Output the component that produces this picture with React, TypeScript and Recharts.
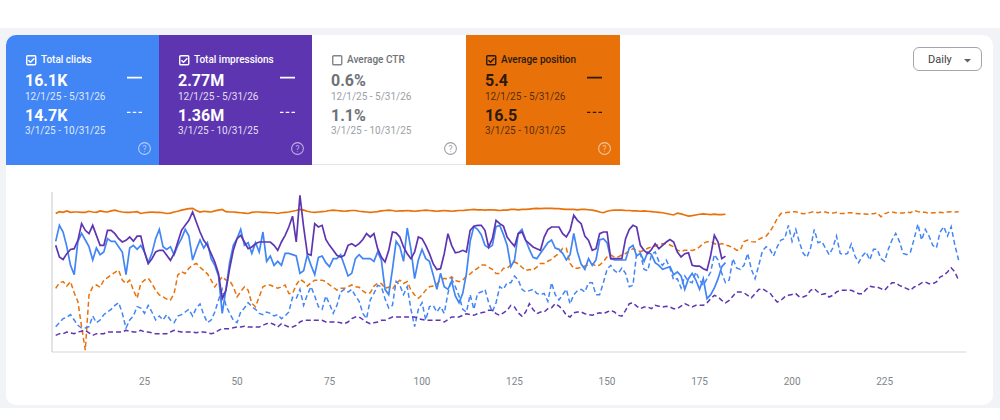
import React from 'react';
import { LineChart, Line, XAxis, YAxis } from 'recharts';

// Daily series, 12/1/25 - 5/31/26 (current period, 182 days)
const clicksCurrent = [
  83, 95, 90, 79, 65, 58, 83, 89, 84, 79, 69, 78, 73, 75, 85, 83, 83, 79, 75, 58,
  78, 80, 77, 80, 75, 67, 74, 85, 92, 79, 77, 79, 73, 80, 85, 92, 87, 69, 77, 84,
  78, 82, 70, 65, 57, 29, 47, 67, 80, 85, 92, 80, 82, 74, 82, 75, 90, 68, 72, 65,
  68,
  65, 74, 74, 73, 72, 59, 61, 73, 65, 58, 71, 72, 67, 64, 70, 70, 73, 65, 57, 59,
  70, 73, 70, 70, 70, 68, 75, 69, 47, 43, 62, 83, 79, 68, 93, 77, 55, 69, 77, 70,
  68, 58, 47, 59, 49, 47, 53, 42, 37, 44, 59, 83, 94, 92, 88, 80, 78, 80, 94, 95,
  88, 80,
  64, 69, 89, 92, 84, 77, 71, 70, 74, 78, 82, 84, 78, 77, 74, 69, 73, 89, 75, 66,
  62, 70, 65, 69, 84, 85, 82, 70, 69, 69, 69, 69, 78, 80, 72, 74, 68, 75, 73, 67,
  65, 62, 63, 64, 58, 60, 57, 47, 55, 59, 54, 47, 55, 40, 43, 48, 55, 64, 67,
];

// impressions in thousands
const impressionsCurrent = [
  12.8, 11.4, 11.1, 11.8, 12.3, 12.4, 13.4, 15.4, 14.6, 14.2, 15.2, 14.0, 12.8, 12.8, 14.6, 14.6, 14.2, 13.6, 13.2, 13.4,
  13.8, 13.3, 13.9, 13.9, 12.0, 10.6, 11.2, 12.0, 12.2, 12.2, 11.6, 11.0, 11.8, 13.2, 14.6, 15.2, 15.8, 16.8, 15.6, 14.4,
  13.4, 12.8, 11.8, 10.8, 9.4, 6.4, 7.4, 10.0, 12.2, 13.6, 14.0, 13.2, 12.4, 12.6, 13.0, 13.2, 13.2, 13.2, 13.2, 12.8,
  12.2,
  13.2, 14.0, 15.0, 16.3, 13.2, 18.8, 15.0, 11.8, 11.6, 15.4, 15.0, 15.2, 13.5, 12.8, 12.2, 11.6, 11.4, 11.6, 12.8, 13.0,
  12.7, 13.0, 13.5, 14.2, 13.8, 14.2, 12.4, 11.4, 10.8, 12.2, 14.4, 14.3, 13.8, 12.6, 11.8, 11.2, 12.0, 13.8, 13.6, 12.8,
  11.8, 10.6, 9.9, 10.0, 11.8, 14.2, 12.8, 11.9, 12.0, 12.2, 12.0, 14.6, 15.1, 15.2, 15.2, 14.6, 12.6, 13.6, 15.8, 15.4,
  15.1, 13.8,
  13.2, 12.7, 14.2, 14.4, 13.4, 13.0, 12.6, 12.4, 12.2, 13.8, 14.7, 15.0, 15.0, 15.0, 14.2, 13.8, 14.6, 16.4, 15.8, 15.4,
  13.9, 13.4, 12.2, 12.4, 14.2, 14.4, 14.4, 11.2, 11.2, 11.2, 11.2, 13.6, 14.7, 15.2, 15.0, 12.8, 12.2, 11.8, 12.3, 13.0,
  12.4, 12.8, 13.2, 13.5, 13.2, 12.0, 11.4, 11.8, 11.9, 10.4, 10.3, 10.3, 10.0, 9.8, 11.6, 14.0, 13.2, 11.2, 11.5,
];

const positionCurrent = [
  5.8, 5.3, 5.5, 5.1, 5.5, 5.4, 5.4, 5.5, 5.5, 5.2, 5.4, 5.5, 5.1, 5.3, 5.4, 5.1, 4.9, 5.2, 5.4, 5.5,
  5.5, 5.4, 5.3, 5.8, 5.6, 5.5, 5.4, 5.5, 5.5, 5.6, 5.8, 5.7, 5.4, 5.2, 4.9, 4.7, 4.5, 4.4, 5.0, 5.4,
  5.2, 5.3, 5.4, 5.1, 4.9, 4.7, 5.3, 5.4, 5.4, 5.5, 5.6, 5.7, 5.8, 5.5, 5.4, 5.4, 5.5, 5.5, 5.6, 5.6,
  5.8,
  5.6, 5.5, 5.4, 5.2, 5.0, 4.7, 4.9, 5.2, 5.4, 5.5, 5.4, 5.3, 5.2, 5.0, 4.9, 5.0, 5.1, 5.2, 5.1, 5.0,
  5.0, 5.2, 5.3, 5.4, 5.5, 5.4, 5.3, 5.1, 5.0, 4.9, 5.0, 5.2, 5.1, 5.1, 5.0, 5.1, 5.2, 5.1, 5.0, 4.9,
  5.0, 5.1, 5.2, 5.1, 5.0, 5.1, 5.2, 5.1, 5.0, 5.0, 4.9, 4.8, 4.7, 4.8, 4.8, 4.9, 4.8, 4.8, 4.9, 5.0,
  4.9, 4.9,
  4.7, 4.7, 4.8, 4.7, 4.7, 4.6, 4.5, 4.4, 4.5, 4.4, 4.4, 4.4, 4.5, 4.5, 4.6, 4.7, 4.7, 4.7, 4.8, 4.7,
  4.7, 4.8, 4.9, 5.1, 5.4, 5.6, 5.2, 5.0, 4.9, 4.9, 4.9, 5.0, 5.0, 5.1, 5.1, 5.2, 5.1, 5.2, 5.3, 5.4,
  5.5, 5.6, 5.8, 6.0, 6.2, 5.7, 5.9, 6.2, 6.5, 6.4, 6.2, 6.0, 5.9, 6.0, 6.1, 6.0, 6.1, 6.1, 6.0,
];

// Daily series, 3/1/25 - 10/31/25 (comparison period, 245 days)
const clicksPrevious = [
  19, 22, 25, 26, 28, 24, 20, 18, 18, 19, 27, 22, 24, 28, 30, 32, 35, 37, 29, 18,
  24, 27, 34, 33, 29, 35, 30, 24, 27, 24, 28, 24, 22, 27, 28, 30, 32, 27, 33, 36,
  28, 22, 24, 30, 39, 47, 35, 29, 24, 22, 30, 33, 37, 34, 32, 29, 28, 30, 29, 27,
  28,
  25, 27, 30, 41, 40, 47, 35, 43, 49, 42, 34, 32, 42, 36, 29, 35, 45, 47, 45, 47,
  42, 38, 29, 25, 39, 44, 50, 49, 40, 33, 35, 53, 50, 43, 49, 32, 19, 32, 37, 24,
  34, 35, 30, 34, 29, 44, 55, 49, 42, 32, 30, 43, 32, 44, 45, 47, 37, 30, 37, 49,
  47, 52,
  52, 57, 54, 47, 45, 46, 47, 44, 43, 44, 38, 52, 43, 39, 43, 47, 36, 43, 46, 47,
  45, 52, 52, 43, 43, 52, 62, 65, 61, 59, 63, 59, 49, 50, 74, 74, 62, 61, 73, 75,
  68, 65, 69, 63, 54, 55, 48, 57, 53, 52, 60, 54, 50, 55, 60, 73, 69, 59, 52, 54,
  70, 63, 62,
  65, 74, 62, 55, 65, 76, 79, 77, 72, 79, 84, 85, 95, 83, 92, 82, 74, 71, 78, 92,
  82, 83, 78, 73, 78, 87, 74, 73, 74, 81, 72, 67, 72, 75, 69, 77, 77, 70, 68, 77,
  84, 89, 83, 74, 73, 75, 85, 96, 84, 92, 87, 80, 78, 90, 94, 87, 94, 80, 69,
];

// impressions in thousands
const impressionsPrevious = [
  2.0, 2.2, 2.2, 2.4, 2.3, 2.2, 2.4, 2.5, 2.6, 2.3, 2.0, 2.2, 2.2, 2.2, 2.4, 2.4, 2.4, 2.4, 2.4, 2.6,
  2.5, 2.4, 2.4, 2.6, 2.4, 2.4, 2.3, 2.2, 2.2, 2.2, 2.2, 2.4, 2.6, 2.5, 2.4, 2.4, 2.4, 2.4, 2.3, 2.4,
  2.4, 2.3, 2.2, 2.3, 2.6, 2.8, 2.8, 2.8, 2.9, 3.0, 3.0, 3.1, 3.0, 3.0, 3.0, 3.0, 3.2, 3.4, 3.5, 3.3,
  3.0,
  3.4, 3.2, 3.0, 3.0, 3.2, 3.6, 3.8, 3.8, 3.8, 3.8, 3.8, 3.8, 3.6, 3.6, 3.6, 3.6, 3.5, 3.4, 3.6, 4.0,
  4.2, 4.2, 3.9, 3.6, 3.4, 3.5, 3.6, 3.8, 3.8, 4.0, 4.2, 4.2, 4.2, 4.2, 4.2, 4.2, 4.2, 4.0, 3.9, 3.8,
  3.8, 3.8, 3.8, 3.8, 3.6, 3.9, 4.2, 4.2, 4.2, 4.4, 4.6, 4.5, 4.4, 4.6, 4.7, 4.8, 5.0, 5.0, 4.6, 4.4,
  4.7, 5.0,
  5.6, 5.4, 4.7, 4.3, 4.8, 5.8, 5.1, 4.6, 4.8, 4.8, 5.2, 5.3, 5.8, 5.5, 5.1, 4.4, 4.2, 4.7, 4.8, 4.8,
  4.6, 4.5, 4.4, 4.6, 4.7, 4.6, 4.8, 5.0, 4.8, 4.4, 4.3, 5.0, 5.8, 5.9, 5.5, 5.2, 5.4, 5.4, 5.2, 5.6,
  5.5, 5.4, 5.5, 5.4, 5.2, 5.2, 5.5, 5.8, 5.6, 5.4, 5.6, 5.6, 5.6, 5.9, 6.4, 6.8, 6.6, 6.2, 5.9, 6.2,
  6.7, 7.2, 7.2,
  7.1, 6.8, 6.5, 7.0, 7.5, 7.6, 7.3, 7.1, 6.5, 6.0, 6.2, 6.6, 6.8, 6.9, 7.0, 6.6, 6.6, 6.8, 7.4, 7.6,
  7.2, 6.9, 7.0, 6.6, 6.8, 7.2, 7.4, 7.4, 7.4, 7.4, 7.2, 7.0, 7.0, 7.5, 7.9, 7.8, 7.8, 7.6, 7.4, 7.9,
  8.3, 8.3, 8.0, 7.8, 7.6, 7.4, 7.8, 8.0, 8.3, 8.4, 8.2, 8.2, 8.4, 9.0, 9.2, 9.6, 10.1, 9.6, 8.6,
];

const positionPrevious = [
  26.0, 24.5, 24.2, 25.4, 24.2, 27.2, 29.6, 36.4, 42.7, 27.8, 25.6, 25.1, 25.7, 23.8, 23.1, 22.4, 21.7, 21.1, 23.8, 24.7,
  23.8, 26.5, 28.7, 24.7, 23.8, 23.3, 24.7, 26.5, 27.8, 28.3, 28.9, 29.2, 27.4, 22.4, 21.5, 22.0, 20.6, 19.7, 19.3, 20.3,
  21.2, 22.1, 23.8, 25.6, 24.2, 22.9, 23.8, 23.9, 25.6, 28.3, 26.9, 25.6, 26.5, 30.1, 31.0, 28.3, 25.6, 25.1, 25.1, 25.6,
  26.0,
  25.6, 25.1, 27.4, 27.4, 25.1, 23.6, 24.2, 25.4, 24.5, 23.8, 23.8, 23.8, 24.2, 25.1, 25.7, 26.5, 26.0, 26.0, 25.6, 25.1,
  25.6, 25.7, 26.7, 27.4, 27.2, 25.4, 24.7, 24.7, 26.0, 25.7, 26.3, 24.7, 23.8, 24.7, 24.2, 26.5, 27.8, 28.7, 27.8, 26.5,
  25.6, 25.4, 24.8, 23.8, 23.3, 23.6, 22.9, 23.9, 24.2, 23.8, 22.7, 22.1, 21.2, 20.6, 19.7, 19.7, 20.3, 20.9, 22.0, 22.0,
  20.6, 20.6,
  19.7, 18.9, 19.4, 20.3, 21.2, 20.9, 21.1, 20.3, 19.3, 19.3, 18.7, 18.2, 17.3, 16.6, 15.2, 15.2, 19.3, 20.6, 20.6, 20.3,
  20.0, 19.7, 19.4, 20.0, 19.7, 18.8, 17.5, 17.0, 17.6, 17.5, 17.0, 16.6, 15.9, 15.3, 15.7, 16.1, 15.7, 15.2, 14.8, 14.6,
  14.1, 14.0, 13.9, 14.3, 14.8, 15.7, 16.1, 15.7, 15.7, 15.8, 15.5, 14.8, 13.9, 13.4, 13.4, 13.9, 14.3, 13.9, 14.3, 14.6,
  15.0, 15.7, 15.7,
  13.4, 13.0, 13.4, 13.5, 12.8, 12.3, 11.9, 10.7, 9.1, 7.1, 5.8, 5.6, 5.5, 5.3, 5.3, 5.7, 5.9, 5.8, 5.5, 5.3,
  5.6, 5.4, 5.4, 5.7, 5.7, 5.5, 5.8, 5.8, 5.6, 5.6, 5.8, 5.9, 5.8, 6.0, 5.9, 5.9, 5.6, 6.7, 5.9, 5.5,
  5.4, 5.6, 5.7, 5.7, 5.4, 5.6, 5.0, 5.3, 5.5, 5.5, 5.8, 5.6, 5.6, 5.5, 5.6, 5.4, 5.3, 5.4, 5.3,
];

const dayTicks = [25, 50, 75, 100, 125, 150, 175, 200, 225];

const rows = clicksPrevious.map((_, k) => ({
  day: k + 1,
  clicksCurrent: clicksCurrent[k],
  impressionsCurrent: impressionsCurrent[k],
  positionCurrent: positionCurrent[k],
  clicksPrevious: clicksPrevious[k],
  impressionsPrevious: impressionsPrevious[k],
  positionPrevious: positionPrevious[k],
}));

const BLUE = '#4285f4';
const PURPLE = '#5e35b1';
const ORANGE = '#e8710a';
const FONT = 'Roboto, Arial, sans-serif';

type Tile = {
  left: number;
  width: number;
  bg: string;
  checked: boolean;
  title: string;
  current: string;
  previous: string;
  text: string;
  sub: string;
  icon: string;
  showLines: boolean;
};

const currentRange = '12/1/25 - 5/31/26';
const previousRange = '3/1/25 - 10/31/25';

const tiles: Tile[] = [
  { left: 6, width: 153, bg: BLUE, checked: true, title: 'Total clicks', current: '16.1K', previous: '14.7K', text: '#ffffff', sub: 'rgba(255,255,255,0.85)', icon: 'rgba(255,255,255,0.6)', showLines: true },
  { left: 159, width: 153, bg: PURPLE, checked: true, title: 'Total impressions', current: '2.77M', previous: '1.36M', text: '#ffffff', sub: 'rgba(255,255,255,0.85)', icon: 'rgba(255,255,255,0.6)', showLines: true },
  { left: 312, width: 154, bg: '#ffffff', checked: false, title: 'Average CTR', current: '0.6%', previous: '1.1%', text: '#6f7276', sub: '#9aa0a6', icon: '#9aa0a6', showLines: false },
  { left: 466, width: 154, bg: ORANGE, checked: true, title: 'Average position', current: '5.4', previous: '16.5', text: '#2b1a0c', sub: 'rgba(40,24,10,0.8)', icon: 'rgba(255,255,255,0.6)', showLines: true },
];

const abs = (left: number, top: number, extra: React.CSSProperties = {}): React.CSSProperties => ({
  position: 'absolute',
  left,
  top,
  whiteSpace: 'nowrap',
  ...extra,
});

function MetricTile({ t }: { t: Tile }) {
  const boxColor = t.checked ? t.text : '#80868b';
  return (
    <div
      style={{
        position: 'absolute',
        left: t.left,
        top: 35,
        width: t.width,
        height: 130,
        background: t.bg,
        borderBottom: t.checked ? 'none' : '1px solid #e3e5e8',
        boxSizing: 'border-box',
        fontFamily: FONT,
      }}
    >
      <svg width={11} height={11} style={abs(20, 20)}>
        <rect x={0.75} y={0.75} width={9} height={9} rx={1} fill="none" stroke={boxColor} strokeWidth={1.4} />
        {t.checked && <path d="M2.4 5.3 L4.5 7.3 L8.4 3.3" fill="none" stroke={boxColor} strokeWidth={1.4} />}
      </svg>
      <div style={abs(35, 19.5, { fontSize: 10, lineHeight: '10px', fontWeight: 500, color: t.checked ? t.text : '#6f7276' })}>
        {t.title}
      </div>
      <div style={abs(19, 37.5, { fontSize: 16, lineHeight: '16px', fontWeight: 700, color: t.text })}>{t.current}</div>
      <div style={abs(19, 56.8, { fontSize: 10, lineHeight: '10px', color: t.sub })}>{currentRange}</div>
      <div style={abs(19, 73.2, { fontSize: 16, lineHeight: '16px', fontWeight: 700, color: t.text })}>{t.previous}</div>
      <div style={abs(19, 90.8, { fontSize: 10, lineHeight: '10px', color: t.sub })}>{previousRange}</div>
      {t.showLines && (
        <svg width={16} height={40} style={abs(121, 38)}>
          <line x1={0} y1={4.7} x2={15} y2={4.7} stroke={t.text} strokeWidth={1.8} />
          <line x1={0} y1={39.7 - 0} x2={15} y2={39.7} stroke={t.text} strokeWidth={1.8} strokeDasharray="3.5 2.25" />
        </svg>
      )}
      <svg width={15} height={15} style={abs(130.5, 106)}>
        <circle cx={7.5} cy={7.5} r={5.9} fill="none" stroke={t.icon} strokeWidth={1.1} />
        <text x={7.5} y={10.5} textAnchor="middle" fontSize={8.5} fill={t.icon} fontFamily={FONT}>?</text>
      </svg>
    </div>
  );
}

export default function App() {
  return (
    <div style={{ position: 'absolute', left: 0, top: 0, width: 1000, height: 420, background: '#ffffff', overflow: 'hidden', fontFamily: FONT }}>
      <div style={{ position: 'absolute', left: 0, top: 28, width: 1000, height: 380, background: '#f1f3f6' }} />
      <div
        style={{
          position: 'absolute',
          left: 6,
          top: 35,
          width: 987,
          height: 370,
          background: '#ffffff',
          borderRadius: 10,
          overflow: 'hidden',
        }}
      >
        <div style={{ position: 'absolute', left: -6, top: -35, width: 1000, height: 420 }}>
          {tiles.map((t) => (
            <MetricTile key={t.title} t={t} />
          ))}
        </div>
      </div>

      <div
        style={{
          position: 'absolute',
          left: 913,
          top: 47,
          width: 69,
          height: 24,
          boxSizing: 'border-box',
          border: '1px solid #a3a7ac',
          borderRadius: 6,
          background: '#ffffff',
        }}
      >
        <div style={abs(14, 6.3, { fontSize: 11, lineHeight: '11px', color: '#3c4043' })}>Daily</div>
        <svg width={8} height={5} style={abs(49.5, 11)}>
          <path d="M0 0 L7 0 L3.5 3.6 Z" fill="#5f6368" />
        </svg>
      </div>

      <div style={{ position: 'absolute', left: 0, top: 0 }}>
        <LineChart width={1000} height={420} data={rows} margin={{ top: 192, right: 34, bottom: 38, left: 51 }}>
          <XAxis
            dataKey="day"
            type="number"
            domain={[0, 247]}
            ticks={dayTicks}
            allowDataOverflow
            height={30}
            tickLine={false}
            tickSize={0}
            tickMargin={26}
            axisLine={{ stroke: '#d3d5d9' }}
            tick={{ fill: '#80868b', fontSize: 10, fontFamily: FONT }}
          />
          <YAxis
            yAxisId="clicks"
            domain={[0, 120]}
            allowDataOverflow
            width={1}
            tick={false}
            tickLine={false}
            axisLine={{ stroke: '#c6c9cd', strokeWidth: 1 }}
          />
          <YAxis yAxisId="impressions" domain={[0, 19.2]} allowDataOverflow hide />
          <YAxis yAxisId="position" domain={[0, 43.2]} reversed allowDataOverflow hide />

          <Line yAxisId="position" dataKey="positionPrevious" stroke={ORANGE} strokeWidth={1.5} strokeDasharray="5 3" dot={false} activeDot={false} isAnimationActive={false} />
          <Line yAxisId="clicks" dataKey="clicksPrevious" stroke={BLUE} strokeWidth={1.5} strokeDasharray="5 3" dot={false} activeDot={false} isAnimationActive={false} />
          <Line yAxisId="impressions" dataKey="impressionsPrevious" stroke={PURPLE} strokeWidth={1.5} strokeDasharray="5 3" dot={false} activeDot={false} isAnimationActive={false} />

          <Line yAxisId="position" dataKey="positionCurrent" stroke={ORANGE} strokeWidth={1.7} dot={false} activeDot={false} isAnimationActive={false} />
          <Line yAxisId="clicks" dataKey="clicksCurrent" stroke={BLUE} strokeWidth={1.7} dot={false} activeDot={false} isAnimationActive={false} />
          <Line yAxisId="impressions" dataKey="impressionsCurrent" stroke={PURPLE} strokeWidth={1.7} dot={false} activeDot={false} isAnimationActive={false} />
        </LineChart>
      </div>
    </div>
  );
}
